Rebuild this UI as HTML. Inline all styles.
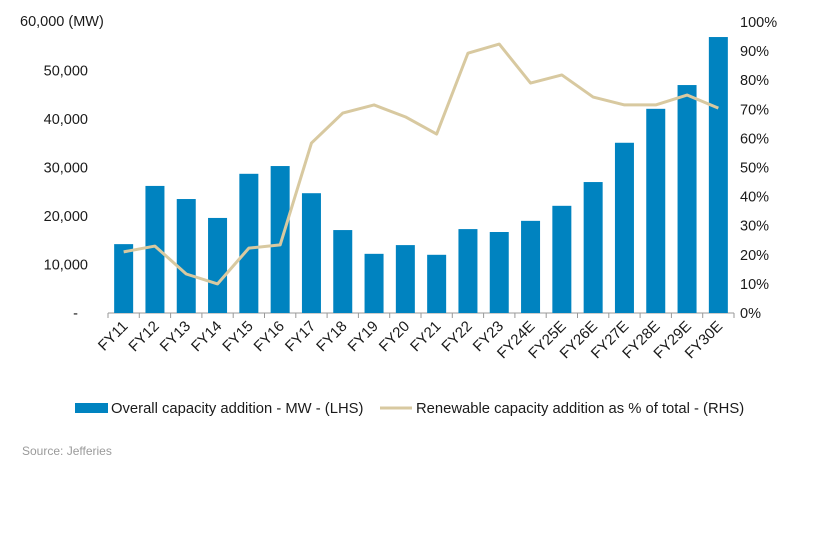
<!DOCTYPE html>
<html><head><meta charset="utf-8"><style>
body{margin:0;background:#fff;width:822px;height:528px;overflow:hidden;font-family:"Liberation Sans",sans-serif;}
svg text{font-family:"Liberation Sans",sans-serif;fill:#1a1a1a;}
</style></head><body>
<svg id="chart" width="822" height="528" xmlns="http://www.w3.org/2000/svg">
<g id="axes"></g><g id="bars"></g><g id="line"></g>
<text x="20" y="26" font-size="14.5">60,000 (MW)</text>
<g>
<rect x="75" y="403" width="33" height="10" fill="#0083c0"/>
<text x="111" y="413" font-size="14.8">Overall capacity addition - MW - (LHS)</text>
<line x1="380" y1="408" x2="412" y2="408" stroke="#d8c9a0" stroke-width="3"/>
<text x="416" y="413" font-size="14.8">Renewable capacity addition as % of total - (RHS)</text>
</g>
<text x="22" y="455" font-size="12" style="fill:#9a9a9a">Source: Jefferies</text>
</svg>
<script>
const categories=["FY11","FY12","FY13","FY14","FY15","FY16","FY17","FY18","FY19","FY20","FY21","FY22","FY23","FY24E","FY25E","FY26E","FY27E","FY28E","FY29E","FY30E"];
const capacityMW=[14200,26200,23500,19600,28700,30300,24700,17100,12200,14000,12000,17300,16700,19000,22100,27000,35100,42100,47000,56900];
const renewablePct=[21,23,13.4,10,22.3,23.4,58.4,68.7,71.5,67.4,61.5,89.3,92.4,79,81.8,74.2,71.5,71.5,74.9,70.4];
const leftTicks=["-","10,000","20,000","30,000","40,000","50,000"];
const leftTickVals=[0,10000,20000,30000,40000,50000];
const rightTicks=[0,10,20,30,40,50,60,70,80,90,100];
const NS="http://www.w3.org/2000/svg";
const x0=108,x1=734,yTop=22,yBot=313;
const step=(x1-x0)/categories.length;
const xC=i=>x0+step*(i+0.5);
const yL=v=>yBot-(v/60000)*(yBot-yTop);
const yR=v=>yBot-(v/100)*(yBot-yTop);
function mk(t,a,p){const e=document.createElementNS(NS,t);for(const k in a)e.setAttribute(k,a[k]);p.appendChild(e);return e;}
const axes=document.getElementById('axes'),bars=document.getElementById('bars'),line=document.getElementById('line');
leftTickVals.forEach((v,i)=>{const t=mk('text',{x:i==0?78:88,y:yL(v)+5,'font-size':14.5,'text-anchor':'end'},axes);t.textContent=leftTicks[i];

});
rightTicks.forEach(v=>{const t=mk('text',{x:740,y:yR(v)+5,'font-size':14.5},axes);t.textContent=v+'%';

});
const ax=mk('line',{x1:x0,y1:yBot,x2:x1,y2:yBot,stroke:'#999'},axes);


for(let i=0;i<=categories.length;i++){const tk=mk('line',{x1:x0+step*i,y1:yBot,x2:x0+step*i,y2:yBot+5,stroke:'#999'},axes);

}
categories.forEach((c,i)=>{
const bx=xC(i),by=yL(capacityMW[i]);
const r=mk('rect',{x:bx-9.5,y:by,width:19,height:yBot-by,fill:'#0083c0'},bars);


const t=mk('text',{x:bx+5,y:yBot+14,'font-size':15,'text-anchor':'end',transform:`rotate(-45 ${bx+5} ${yBot+14})`},axes);t.textContent=c;


});
const pts=renewablePct.map((v,i)=>xC(i)+','+yR(v)).join(' ');
const pl=mk('polyline',{points:pts,fill:'none',stroke:'#d8c9a0','stroke-width':3,'stroke-linejoin':'round'},line);


</script>
</body></html>
